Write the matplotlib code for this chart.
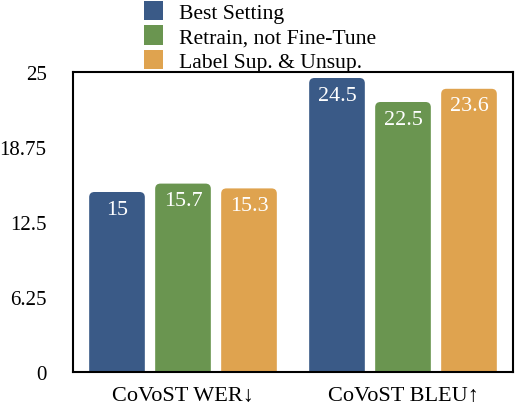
import matplotlib
matplotlib.use("Agg")
import matplotlib.pyplot as plt
import matplotlib.patches as mpatches
from matplotlib.patches import FancyBboxPatch
import numpy as np

plt.rcParams['font.family'] = ['Liberation Serif', 'DejaVu Serif']

groups = ["CoVoST WER\u2193", "CoVoST BLEU\u2191"]
series = ["Best Setting", "Retrain, not Fine-Tune", "Label Sup. & Unsup."]
values = {
    "Best Setting": [15, 24.5],
    "Retrain, not Fine-Tune": [15.7, 22.5],
    "Label Sup. & Unsup.": [15.3, 23.6],
}
colors = ["#3a5a87", "#6a9550", "#dfa34f"]
yticks = [0, 6.25, 12.5, 18.75, 25]
yticklabels = ["0", "6.25", "12.5", "18.75", "25"]

W, H = 516, 406
fig = plt.figure(figsize=(W / 100, H / 100), dpi=100)
ax = fig.add_axes([73 / W, 33 / H, 440 / W, 300 / H])
ax.set_xlim(-0.5, 1.5)
ax.set_ylim(0, 25)

# px -> data scale so corner rounding looks round
aspect = (25 / 300) / (2 / 440)
step = 0.3
width = 0.253
x = np.arange(len(groups))

for i, (name, col) in enumerate(zip(series, colors)):
    for xi, v in zip(x, values[name]):
        left = xi + (i - 1) * step - width / 2
        p = FancyBboxPatch((left, -2), width, v + 2,
                           boxstyle="round,pad=0,rounding_size=0.024",
                           mutation_aspect=aspect, facecolor=col,
                           edgecolor="none")
        ax.add_patch(p)
        ax.text(xi + (i - 1) * step, v - 1.42, "{0:g}".format(v),
                ha="center", va="center", color="white", fontsize=15.8)

ax.set_xticks(x)
ax.set_xticklabels(groups, fontsize=16)
ax.set_yticks(yticks)
ax.set_yticklabels(yticklabels, fontsize=15)
ax.tick_params(axis="both", length=0)
ax.tick_params(axis="y", pad=19)
ax.tick_params(axis="x", pad=10)
for s in ax.spines.values():
    s.set_linewidth(1.5)

handles = [mpatches.Patch(facecolor=c, label=n) for n, c in zip(series, colors)]
fig.legend(handles=handles, loc="upper left", bbox_to_anchor=(144 / W, 0.995),
           frameon=False, fontsize=15.6, handlelength=0.88, handleheight=1.0,
           handletextpad=0.75, labelspacing=0.1, borderpad=0, borderaxespad=0)

fig.savefig("out.png", dpi=100)
